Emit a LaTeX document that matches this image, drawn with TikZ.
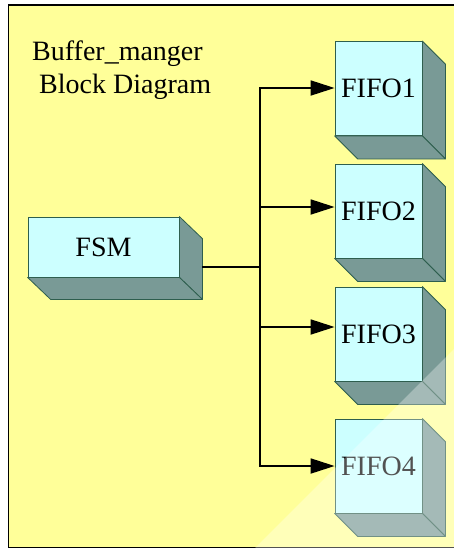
\documentclass[tikz,border=0pt]{standalone}
\usepackage{fontspec}
\setmainfont{Liberation Serif}
\usetikzlibrary{arrows.meta,calc}
\definecolor{bgyellow}{HTML}{FFFF99}
\definecolor{frontcyan}{HTML}{CCFFFF}
\definecolor{sidegrey}{HTML}{799A96}
\definecolor{edgegreen}{HTML}{2E5E4E}
\tikzset{
  front/.style={draw=edgegreen, line width=0.8pt, fill=frontcyan, inner sep=0pt,
    font=\fontsize{28}{31}\selectfont},
  fifobox/.style={front, minimum width=87pt, minimum height=94pt},
  sideface/.style={draw=edgegreen, line width=0.8pt, fill=sidegrey, line join=round},
  conn/.style={draw=black, line width=1.8pt},
  arr/.style={conn, -{Triangle[length=24pt,width=15pt]}},
  titletext/.style={anchor=base west, inner sep=0pt, font=\fontsize{28}{31}\selectfont}
}
\newcommand{\boxsides}[3]{%
  \filldraw[sideface] (#1.north east) -- ++(#2,#3) -- ($(#1.south east)+(#2,#3)$) -- (#1.south east) -- cycle;
  \filldraw[sideface] (#1.south west) -- (#1.south east) -- ++(#2,#3) -- ($(#1.south west)+(#2,#3)$) -- cycle;
}
\begin{document}
\begin{tikzpicture}[x=1pt,y=-1pt]
\useasboundingbox (0,0) rectangle (454,549);
\clip (0,0) rectangle (454,549);
\fill[white] (0,0) rectangle (454,549);
\filldraw[fill=bgyellow, draw=black, line width=1.6pt] (8.5,5) rectangle (480,547.5);

\node[titletext] (t1) at (32,60) {Buffer\_manger};
\node[titletext] (t2) at (39,93) {Block Diagram};

\node[front, minimum width=151pt, minimum height=60pt] (fsm) at (103.5,247) {FSM};
\boxsides{fsm}{23}{22}

\node[fifobox] (f1) at (378.5,88.5) {FIFO1};
\boxsides{f1}{23}{23}
\node[fifobox] (f2) at (378.5,211) {FIFO2};
\boxsides{f2}{23}{23}
\node[fifobox] (f3) at (378.5,334) {FIFO3};
\boxsides{f3}{23}{23}
\node[fifobox] (f4) at (378.5,466) {FIFO4};
\boxsides{f4}{23}{23}

\coordinate (jn) at (260,267);
\draw[conn] ([xshift=23pt,yshift=-20pt]fsm.east) -- (jn);
\draw[arr] (jn) |- ([yshift=0.5pt]f1.west);
\draw[arr] (jn) |- ([yshift=4pt]f2.west);
\draw[arr] (jn) |- ([yshift=7pt]f3.west);
\draw[arr] (jn) |- (f4.west);

\fill[white, opacity=0.32] (248,555) -- (462,341) -- (462,555) -- cycle;
\end{tikzpicture}
\end{document}
